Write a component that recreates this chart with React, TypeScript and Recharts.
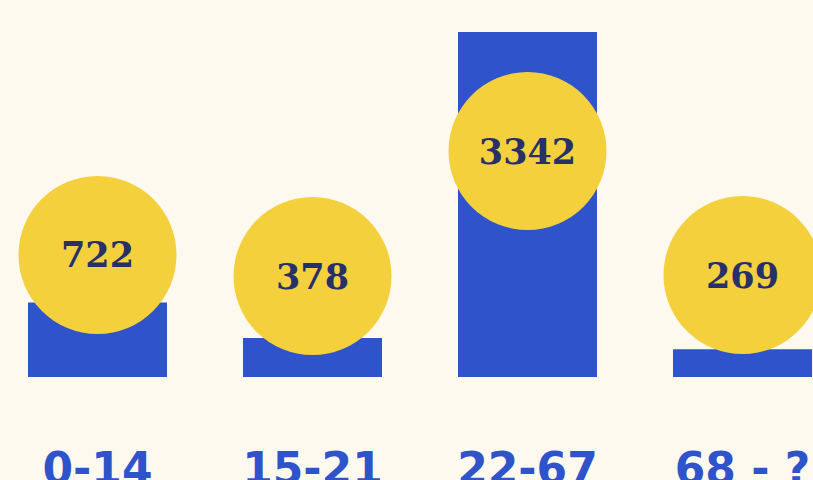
import { ComposedChart, Bar, Line, XAxis, YAxis } from "recharts";

const ageGroups = ["0-14", "15-21", "22-67", "68 - ?"];
const counts = [722, 378, 3342, 269];
// vertical position of each yellow bubble, read in the same units as the bars
const bubbleLevels = [1182, 978, 2189, 988];

const BG = "#FDF9EE";
const BLUE = "#2E53CB";
const YELLOW = "#F3D03C";
const NAVY = "#28306A";

const data = ageGroups.map((name, i) => ({
  name,
  count: counts[i],
  bubble: bubbleLevels[i],
}));

const Bubble = (props: any) => {
  const { cx, cy, payload } = props;
  if (cx == null || cy == null) return null;
  return (
    <g>
      <circle cx={cx} cy={cy} r={79} fill={YELLOW} />
      <text
        x={cx}
        y={cy}
        textAnchor="middle"
        dominantBaseline="central"
        fill={NAVY}
        fontFamily="'DejaVu Serif', serif"
        fontWeight={700}
        fontSize={35}
      >
        {payload.count}
      </text>
    </g>
  );
};

// the labels run off the bottom edge, as in the source image
const AgeTick = (props: any) => {
  const { x, y, payload } = props;
  return (
    <text
      x={x}
      y={y + 99}
      textAnchor="middle"
      fill={BLUE}
      fontFamily="'DejaVu Sans', sans-serif"
      fontWeight={700}
      fontSize={44}
    >
      {payload.value}
    </text>
  );
};

export default function App() {
  return (
    <div
      style={{
        position: "absolute",
        left: 0,
        top: 0,
        width: 813,
        height: 480,
        overflow: "hidden",
        background: BG,
      }}
    >
      <div style={{ position: "absolute", left: -10, top: 0 }}>
        <ComposedChart
          width={860}
          height={500}
          data={data}
          margin={{ top: 32, right: 0, left: 0, bottom: 30 }}
        >
          <XAxis
            dataKey="name"
            axisLine={false}
            tickLine={false}
            height={93}
            tick={<AgeTick />}
            interval={0}
          />
          <YAxis hide domain={[0, "dataMax"]} />
          <Bar dataKey="count" fill={BLUE} barSize={139} isAnimationActive={false} />
          <Line
            dataKey="bubble"
            stroke="none"
            dot={<Bubble />}
            activeDot={false}
            isAnimationActive={false}
          />
        </ComposedChart>
      </div>
    </div>
  );
}
